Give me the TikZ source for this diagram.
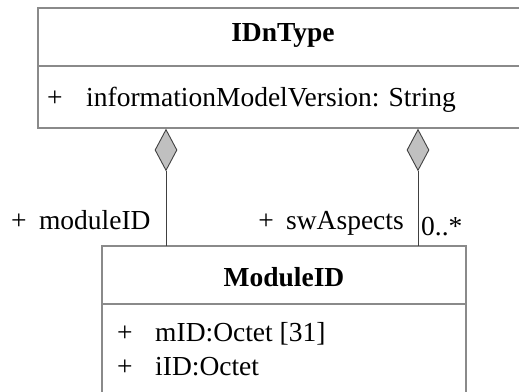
\documentclass[tikz,border=0pt]{standalone}
\usepackage{fontspec}
\setmainfont{Liberation Serif}
\usetikzlibrary{shapes.geometric}
\definecolor{boxgray}{HTML}{8A8A8A}
\definecolor{linegray}{HTML}{404040}
\definecolor{diafill}{HTML}{C0C0C0}
\tikzset{
  umlbox/.style={draw=boxgray, line width=1.3pt},
  conn/.style={draw=linegray, line width=1pt},
  agg/.style={diamond, draw=linegray, fill=diafill, line width=0.9pt, minimum width=22pt, minimum height=41pt, inner sep=0pt},
  txt/.style={inner sep=0pt, font=\fontsize{27.5}{30}\selectfont},
  ttl/.style={inner sep=0pt, font=\fontsize{27.5}{30}\selectfont\bfseries},
}
\begin{document}
\begin{tikzpicture}[x=1pt,y=-1pt]
\useasboundingbox (0,0) rectangle (519,391);
\begin{scope}
\clip (0,0) rectangle (519,391);
% top class
\draw[umlbox] (540,8) -- (38,8) -- (38,128) -- (540,128);
\draw[umlbox] (38,66) -- (540,66);
% bottom class
\draw[umlbox] (102,400) -- (102,246) -- (466,246) -- (466,400);
\draw[umlbox] (102,304) -- (466,304);
\end{scope}
\node[ttl] (t1) at (283,35) {IDnType};
\node[txt, anchor=base west] (p1) at (47,106) {+};
\node[txt, anchor=base west] (a1) at (86,106) {informationModelVersion: String};
\node[ttl] (t2) at (284,277) {ModuleID};
\node[txt, anchor=base west] (p2) at (117,341) {+};
\node[txt, anchor=base west] (a2) at (155,341) {mID:Octet [31]};
\node[txt, anchor=base west] (p3) at (117,375) {+};
\node[txt, anchor=base west] (a3) at (155,375) {iID:Octet};
% aggregations
\node[agg] (d1) at (166,150) {};
\node[agg] (d2) at (418,150) {};
\coordinate (e1) at (166,246);
\coordinate (e2) at (418,246);
\draw[conn] (d1.south) -- (e1);
\draw[conn] (d2.south) -- (e2);
\node[txt, anchor=base west] (l1) at (11,229) {+\hspace{0.45em}moduleID};
\node[txt, anchor=base east] (l2) at (404,229) {+\hspace{0.45em}swAspects};
\node[txt, anchor=base west] (m2) at (421,235) {0..*};
\end{tikzpicture}
\end{document}
